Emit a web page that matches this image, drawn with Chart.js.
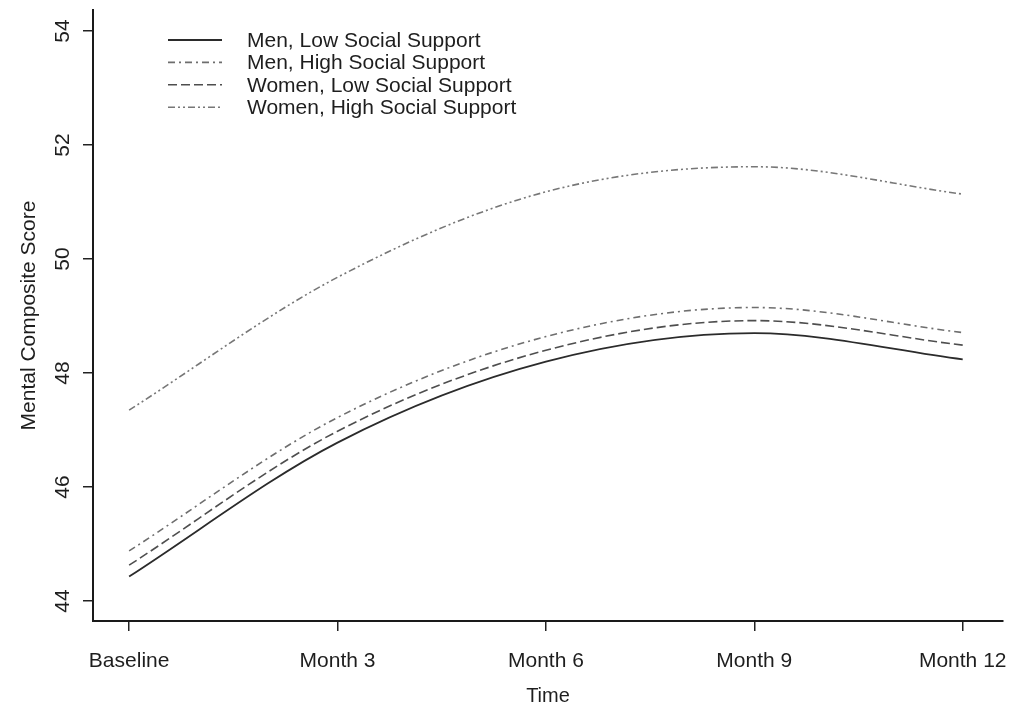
<!DOCTYPE html>
<html>
<head>
<meta charset="utf-8">
<script src="https://cdn.jsdelivr.net/npm/chart.js@4.4.1/dist/chart.umd.min.js"></script>
<style>
  html, body { margin: 0; padding: 0; background: #ffffff; }
  #wrap { width: 1012px; height: 710px; position: relative; }
</style>
</head>
<body>
<div id="wrap"><canvas id="c" width="1012" height="710"></canvas></div>
<script>
// ---- data ----
const months = [0, 3, 6, 9, 12];
const xTickLabels = ['Baseline', 'Month 3', 'Month 6', 'Month 9', 'Month 12'];
const yTickValues = [44, 46, 48, 50, 52, 54];

const seriesNames = [
  'Men, Low Social Support',
  'Men, High Social Support',
  'Women, Low Social Support',
  'Women, High Social Support'
];
const menLow    = [44.43, 46.78, 48.20, 48.70, 48.24];
const menHigh   = [44.88, 47.22, 48.64, 49.15, 48.71];
const womenLow  = [44.63, 46.98, 48.40, 48.92, 48.49];
const womenHigh = [47.35, 49.68, 51.18, 51.62, 51.14];

// ---- styles ----
const FONT = '"Liberation Sans", Arial, Helvetica, sans-serif';
const styles = [
  { color: '#2b2b2b', dash: [], width: 1.8 },
  { color: '#6e6e6e', dash: [7, 4, 2, 4], width: 1.6 },
  { color: '#4e4e4e', dash: [9, 4], width: 1.6 },
  { color: '#777777', dash: [7, 3, 2, 3, 2, 3], width: 1.6 }
];
const seriesValues = [menLow, menHigh, womenLow, womenHigh];

const datasets = seriesValues.map((vals, i) => ({
  label: seriesNames[i],
  data: months.map((m, j) => ({ x: m, y: vals[j] })),
  borderColor: styles[i].color,
  borderDash: styles[i].dash,
  borderWidth: styles[i].width,
  pointRadius: 0,
  fill: false,
  cubicInterpolationMode: 'monotone'
}));

// custom in-plot legend (drawn from dataset styles)
const insetLegend = {
  id: 'insetLegend',
  afterDraw(chart) {
    const ctx = chart.ctx;
    const a = chart.chartArea;
    const x0 = a.left + 75, x1 = x0 + 54, tx = x0 + 79;
    const y0 = a.top + 30, dy = 22.4;
    ctx.save();
    ctx.font = '21px ' + FONT;
    ctx.textBaseline = 'middle';
    ctx.textAlign = 'left';
    chart.data.datasets.forEach((ds, i) => {
      const y = y0 + i * dy;
      ctx.beginPath();
      ctx.setLineDash(ds.borderDash || []);
      ctx.strokeStyle = ds.borderColor;
      ctx.lineWidth = ds.borderWidth;
      ctx.moveTo(x0, y);
      ctx.lineTo(x1, y);
      ctx.stroke();
      ctx.setLineDash([]);
      ctx.fillStyle = '#1e1e1e';
      ctx.fillText(ds.label, tx, y + 1);
    });
    ctx.restore();
  }
};

new Chart(document.getElementById('c'), {
  type: 'line',
  data: { datasets },
  options: {
    responsive: false,
    animation: false,
    devicePixelRatio: 1,
    layout: { padding: { top: 10, right: 9, left: 0, bottom: 0 } },
    plugins: {
      legend: { display: false },
      tooltip: { enabled: false }
    },
    scales: {
      x: {
        type: 'linear',
        min: -0.52,
        max: 12.58,
        afterBuildTicks: (s) => { s.ticks = months.map(v => ({ value: v })); },
        afterFit: (s) => { s.height = 89; s.paddingLeft = 0; s.paddingRight = 0; },
        grid: { display: true, drawOnChartArea: false, drawTicks: true, tickLength: 10, color: '#222', lineWidth: 1.5 },
        border: { display: true, color: '#1a1a1a', width: 2 },
        ticks: {
          padding: 18,
          color: '#1e1e1e',
          font: { family: FONT, size: 21 },
          maxRotation: 0,
          callback: (v) => { const k = months.indexOf(v); return k >= 0 ? xTickLabels[k] : ''; }
        },
        title: { display: true, text: 'Time', color: '#1e1e1e', font: { family: FONT, size: 20 }, padding: { top: 0, bottom: 2 } }
      },
      y: {
        type: 'linear',
        min: 43.65,
        max: 54.37,
        afterBuildTicks: (s) => { s.ticks = yTickValues.map(v => ({ value: v })); },
        afterFit: (s) => { s.width = 93; s.paddingTop = 0; s.paddingBottom = 0; },
        grid: { display: true, drawOnChartArea: false, drawTicks: true, tickLength: 10, color: '#222', lineWidth: 1.5 },
        border: { display: true, color: '#1a1a1a', width: 2 },
        ticks: {
          minRotation: 90,
          maxRotation: 90,
          crossAlign: 'center',
          padding: 8,
          color: '#1e1e1e',
          font: { family: FONT, size: 21 }
        },
        title: { display: true, text: 'Mental Composite Score', color: '#1e1e1e', font: { family: FONT, size: 21 }, padding: { top: 17, bottom: 0 } }
      }
    }
  },
  plugins: [insetLegend]
});
</script>
</body>
</html>
